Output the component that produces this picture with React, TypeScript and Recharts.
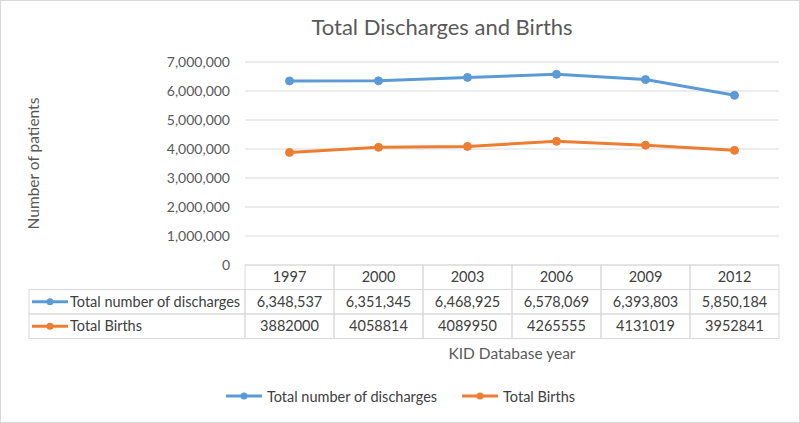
import React from 'react';
import { LineChart, Line, XAxis, YAxis, CartesianGrid, Legend } from 'recharts';

const years = ['1997', '2000', '2003', '2006', '2009', '2012'];
const discharges = [6348537, 6351345, 6468925, 6578069, 6393803, 5850184];
const births = [3882000, 4058814, 4089950, 4265555, 4131019, 3952841];
const yTicks = [0, 1000000, 2000000, 3000000, 4000000, 5000000, 6000000, 7000000];

const seriesNames = ['Total number of discharges', 'Total Births'];
const seriesColors = ['#5B9BD5', '#ED7D31'];

const data = years.map((year, i) => ({
  year,
  discharges: discharges[i],
  births: births[i],
}));

const W = 800;
const H = 423;
const PLOT_LEFT = 245;
const PLOT_RIGHT = 779;
const PLOT_TOP = 62;
const PLOT_BOTTOM = 265;
const BAND = (PLOT_RIGHT - PLOT_LEFT) / years.length;
const ROW_H = 24.5;
const TABLE_LEFT = 29;

const FONT = 'Lato, "Open Sans", sans-serif';
const TEXT = '#595959';
const CELL_TEXT = '#404040';
const BORDER = '#d9d9d9';

const fmt = (v: number) => v.toLocaleString('en-US');

function LegendIcon({ color, x, y }: { color: string; x: number; y: number }) {
  return (
    <g>
      <line x1={x} y1={y} x2={x + 36} y2={y} stroke={color} strokeWidth={3} />
      <circle cx={x + 18} cy={y} r={3.5} fill={color} />
    </g>
  );
}

function TableTick(props: any) {
  const { x, payload } = props;
  const i = payload.index ?? years.indexOf(payload.value);
  const left = x - BAND / 2;
  const rowTexts = [payload.value, fmt(discharges[i]), String(births[i])];
  return (
    <g fontFamily={FONT} fontSize={14.5} fill={CELL_TEXT}>
      {rowTexts.map((t, r) => (
        <g key={r}>
          <rect x={left} y={PLOT_BOTTOM + r * ROW_H} width={BAND} height={ROW_H} fill="none" stroke={BORDER} />
          <text x={x} y={PLOT_BOTTOM + r * ROW_H + ROW_H / 2 + 5} textAnchor="middle" fill={CELL_TEXT}>
            {t}
          </text>
        </g>
      ))}
      {i === 0 &&
        seriesNames.map((name, r) => {
          const top = PLOT_BOTTOM + (r + 1) * ROW_H;
          return (
            <g key={name}>
              <rect x={TABLE_LEFT} y={top} width={PLOT_LEFT - TABLE_LEFT} height={ROW_H} fill="none" stroke={BORDER} />
              <LegendIcon color={seriesColors[r]} x={TABLE_LEFT + 3} y={top + ROW_H / 2} />
              <text x={TABLE_LEFT + 41} y={top + ROW_H / 2 + 5} fill={CELL_TEXT}>
                {name}
              </text>
            </g>
          );
        })}
    </g>
  );
}

function BottomLegend() {
  return (
    <div style={{ display: 'flex', justifyContent: 'center', alignItems: 'center', height: 20, paddingLeft: 22, boxSizing: 'border-box', fontFamily: FONT, fontSize: 14.5, color: CELL_TEXT }}>
      {seriesNames.map((name, i) => (
        <div key={name} style={{ display: 'flex', alignItems: 'center', marginRight: i === 0 ? 25 : 0 }}>
          <svg width={36} height={10} style={{ marginRight: 5 }}>
            <LegendIcon color={seriesColors[i]} x={0} y={5} />
          </svg>
          <span>{name}</span>
        </div>
      ))}
    </div>
  );
}

export default function App() {
  return (
    <div style={{ position: 'absolute', left: 0, top: 0, width: W, height: H, background: '#fff' }}>
      <div
        style={{
          position: 'absolute',
          top: 13,
          left: 0,
          width: W,
          paddingLeft: 84,
          boxSizing: 'border-box',
          textAlign: 'center',
          fontFamily: FONT,
          fontSize: 22,
          color: TEXT,
        }}
      >
        Total Discharges and Births
      </div>
      <LineChart
        width={W}
        height={H}
        data={data}
        margin={{ top: PLOT_TOP, right: W - PLOT_RIGHT, bottom: 17, left: 0 }}
      >
        <CartesianGrid vertical={false} stroke={BORDER} />
        <XAxis
          dataKey="year"
          axisLine={false}
          tickLine={false}
          height={121}
          padding={{ left: BAND / 2, right: BAND / 2 }}
          tick={<TableTick />}
          interval={0}
          label={{ value: 'KID Database year', position: 'insideBottom', offset: 27, fill: TEXT, fontSize: 15.5, fontFamily: FONT }}
        />
        <YAxis
          width={PLOT_LEFT}
          domain={[0, 7000000]}
          ticks={yTicks}
          tickFormatter={fmt}
          axisLine={false}
          tickLine={false}
          tickSize={0}
          tickMargin={15}
          tick={{ fill: TEXT, fontSize: 14, fontFamily: FONT }}
          label={{
            content: (p: any) => {
              const vb = p.viewBox;
              const cx = vb.x + 33;
              const cy = vb.y + vb.height / 2;
              return (
                <text x={cx} y={cy} transform={`rotate(-90 ${cx} ${cy})`} textAnchor="middle" dominantBaseline="central" fill={TEXT} fontSize={15.5} fontFamily={FONT}>
                  Number of patients
                </text>
              );
            },
          }}
        />
        <Legend verticalAlign="bottom" content={<BottomLegend />} />
        <Line
          dataKey="discharges"
          name={seriesNames[0]}
          stroke={seriesColors[0]}
          strokeWidth={3}
          dot={{ r: 4, fill: seriesColors[0], stroke: seriesColors[0], strokeWidth: 1 }}
          isAnimationActive={false}
        />
        <Line
          dataKey="births"
          name={seriesNames[1]}
          stroke={seriesColors[1]}
          strokeWidth={3}
          dot={{ r: 4, fill: seriesColors[1], stroke: seriesColors[1], strokeWidth: 1 }}
          isAnimationActive={false}
        />
      </LineChart>
      <div style={{ position: 'absolute', left: 0, top: 0, width: W, height: H, border: `1px solid ${BORDER}`, boxSizing: 'border-box', pointerEvents: 'none' }} />
    </div>
  );
}
